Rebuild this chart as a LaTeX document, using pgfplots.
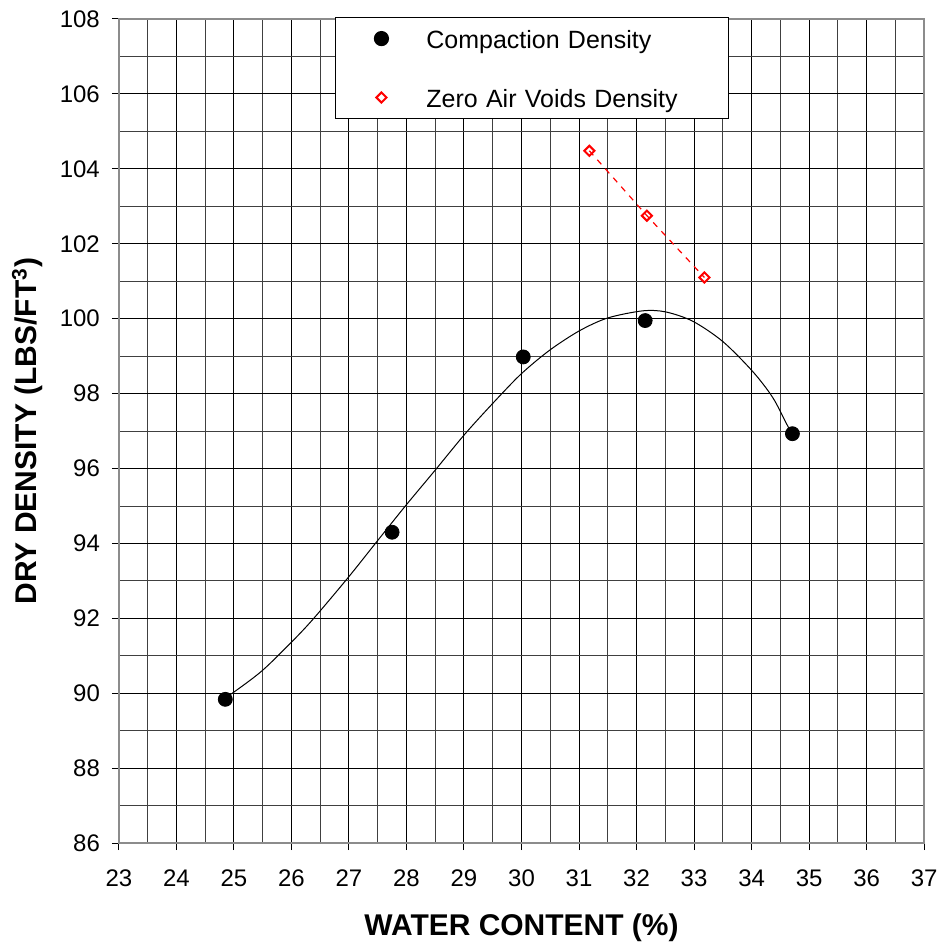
\documentclass[border=0pt]{standalone}
\usepackage{fontspec}
\setmainfont{Liberation Sans}
\usepackage{pgfplots}
\pgfplotsset{compat=1.18}
\usetikzlibrary{calc}
\begin{document}
\begin{tikzpicture}
\begin{axis}[
  scale only axis, width=403pt, height=412.5pt,
  xmin=23, xmax=37, ymin=86, ymax=108,
  xtick={23,24,...,37}, ytick={86,88,...,108},
  minor x tick num=1, minor y tick num=1,
  grid=both,
  major grid style={black, line width=0.5pt},
  minor grid style={black!75, line width=0.5pt},
  minor tick length=0pt,
  tick align=outside, major tick length=3.5pt,
  tick pos=left, tick style={black, line width=0.5pt},
  axis line style={black!45, line width=0.9pt},
  /pgf/number format/assume math mode=true,
  ticklabel style={font=\fontsize{12}{14}\selectfont},
  yticklabel style={xshift=-2.5pt},
  xticklabel style={yshift=-6.5pt},
  xlabel={WATER CONTENT (\%)},
  ylabel={DRY DENSITY (LBS/FT\textsuperscript{3})},
  every axis x label/.style={at={(axis description cs:0.5,0)}, anchor=base, yshift=-46pt,
    font=\bfseries\fontsize{15}{18}\selectfont},
  every axis y label/.style={at={($(axis description cs:0,0.5)+(-41pt,0)$)}, rotate=90, anchor=base,
    font=\bfseries\fontsize{15}{18}\selectfont},
  legend style={at={(0.268,1.0024)}, anchor=north west, draw=black, line width=0.6pt, fill=white,
    inner xsep=0pt, inner ysep=5.5pt, row sep=19.5pt, font=\fontsize{12.5}{15}\selectfont},
  legend cell align=left,
  legend image code/.code={\path (0pt,0pt) (43pt,0pt);
    \draw[#1, only marks, mark repeat=2, mark phase=2] plot coordinates {(0pt,0pt) (22.8pt,0pt) (43pt,0pt)};},
]
% fitted curve
\addplot[black, line width=0.5pt, smooth, mark=none, forget plot] coordinates {
  (24.85,89.90) (24.96,89.99) (25.48,90.59) (25.99,91.35) (26.37,91.97) (26.98,93.08)
  (27.50,94.08) (27.98,95.00) (28.49,95.94) (29.01,96.91) (29.50,97.74) (29.99,98.52)
  (30.49,99.16) (31.01,99.68) (31.50,100.02) (32.11,100.21) (32.51,100.18) (32.98,99.93)
  (33.50,99.39) (34.02,98.59) (34.37,97.89) (34.63,97.13) (34.71,96.93)};
\addplot[only marks, mark=*, mark size=3.5pt, black] coordinates {
  (24.85,89.84) (27.75,94.30) (30.03,98.98) (32.15,99.95) (34.71,96.93)};
\addlegendentry[text height=10pt, text depth=0pt, inner ysep=0pt, text width=149pt, align=left]{Compaction Density}
\addplot[red, line width=0.6pt, dash pattern=on 3pt off 3pt, mark=square, mark size=1.8pt,
  mark options={solid, rotate=45, line width=1pt, fill=white}] coordinates {
  (31.18,104.48) (32.18,102.75) (33.18,101.10)};
\addlegendentry[text height=10pt, text depth=0pt, inner ysep=0pt, text width=149pt, align=left]{Zero Air Voids Density}
\end{axis}
\path (current axis.south west) ++(-59.5pt,-52pt) coordinate (bbA);
\path (current axis.north east) ++(8.5pt,9.5pt) coordinate (bbB);
\path[use as bounding box] (bbA) rectangle (bbB);
\end{tikzpicture}
\end{document}
